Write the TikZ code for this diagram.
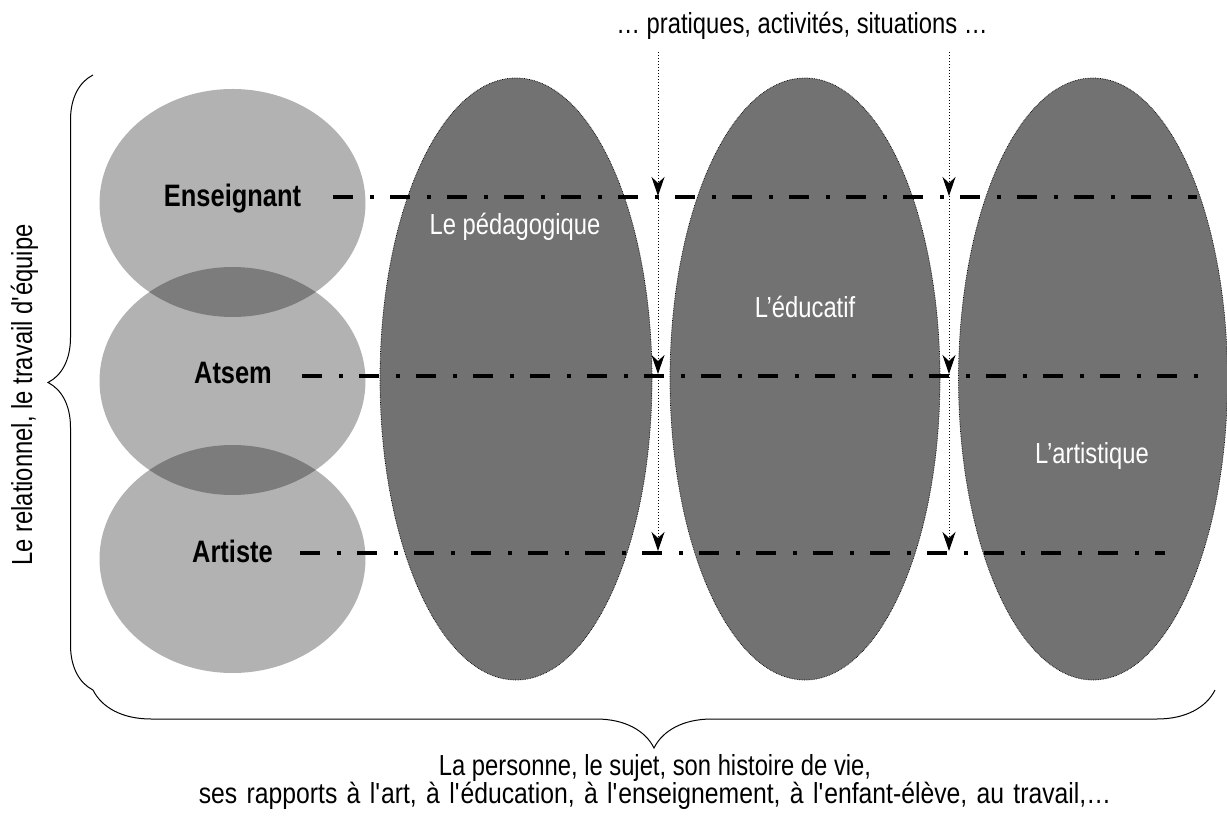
\documentclass[tikz,border=0pt]{standalone}
\usepackage{fontspec}
\setmainfont{Liberation Sans}[FakeStretch=0.82]
\usetikzlibrary{arrows.meta,decorations.pathreplacing}
\definecolor{darkfill}{RGB}{114,114,114}
\begin{document}
\begin{tikzpicture}[x=1pt,y=-1pt,
  lightell/.style={fill=black,fill opacity=0.3},
  darkell/.style={fill=darkfill,draw=black,densely dotted,line width=0.7pt},
  lab/.style={font=\fontsize{31}{34}\selectfont\bfseries,anchor=base,inner sep=0pt},
  dlab/.style={font=\fontsize{29}{28}\selectfont,text=white,anchor=base,inner sep=0pt},
  txt/.style={font=\fontsize{29}{28}\selectfont,anchor=base,inner sep=0pt},
  dd/.style={line width=3.5pt,dash pattern=on 20pt off 17pt on 4pt off 16pt},
  darr/.style={dotted,line width=1pt,-{Stealth[length=19pt,width=13pt,inset=6pt]}},
  brc/.style={decorate,line width=1pt}
]
\useasboundingbox (0,0) rectangle (1227,826);
% light ellipses
\fill[lightell] (232.5,203) ellipse [x radius=133pt,y radius=114pt];
\fill[lightell] (232.5,381) ellipse [x radius=133pt,y radius=114pt];
\fill[lightell] (232.5,559) ellipse [x radius=133pt,y radius=114pt];
% dark ellipses
\path[darkell] (516,379) ellipse [x radius=136pt,y radius=301pt];
\path[darkell] (805,379) ellipse [x radius=135pt,y radius=301pt];
\path[darkell] (1093,379) ellipse [x radius=134.5pt,y radius=301pt];
% labels
\node[lab] (ens) at (232.5,207) {Enseignant};
\node[lab] (ats) at (233,384) {Atsem};
\node[lab] (art) at (232.5,562) {Artiste};
\node[dlab] (ped) at (515,235) {Le pédagogique};
\node[dlab] (edu) at (805,318) {L’éducatif};
\node[dlab] (arti) at (1092,463) {L’artistique};
% dash-dot lines
\coordinate (ensEnd) at (1197,197);
\coordinate (atsEnd) at (1213,376);
\coordinate (artEnd) at (1165,553);
\draw[dd] (333,197) -- (ensEnd);
\draw[dd] (302,376) -- (atsEnd);
\draw[dd] (300,553) -- (artEnd);
% arrows
\coordinate (a0) at (658,52);
\coordinate (a1) at (658,196);
\coordinate (a2) at (658,374);
\coordinate (a3) at (658,551);
\coordinate (b0) at (949,52);
\coordinate (b1) at (949,196);
\coordinate (b2) at (949,374);
\coordinate (b3) at (949,551);
\draw[darr] (a0) -- (a1);
\draw[darr] (a1) -- (a2);
\draw[darr] (a2) -- (a3);
\draw[darr] (b0) -- (b1);
\draw[darr] (b1) -- (b2);
\draw[darr] (b2) -- (b3);
% top text
\node[txt] (top) at (802,34) {… pratiques, activités, situations …};
% braces
\coordinate (lb1) at (93,690);
\coordinate (lb2) at (93,75);
\coordinate (bb1) at (1215,690);
\draw[brc,decoration={brace,amplitude=45pt}] (lb1) -- (lb2);
\draw[brc,decoration={brace,amplitude=58pt}] (bb1) -- (lb1);
\node[txt,rotate=90] (rel) at (32,395) {Le relationnel, le travail d\textquotesingle équipe};
\node[txt,align=center,anchor=base] (bot) at (655,803) {La personne, le sujet, son histoire de vie,\\\scalebox{1.04}[1]{\spaceskip=9pt ses rapports à l\textquotesingle art, à l\textquotesingle éducation, à l\textquotesingle enseignement, à l\textquotesingle enfant-élève, au travail,…}};
\end{tikzpicture}
\end{document}
